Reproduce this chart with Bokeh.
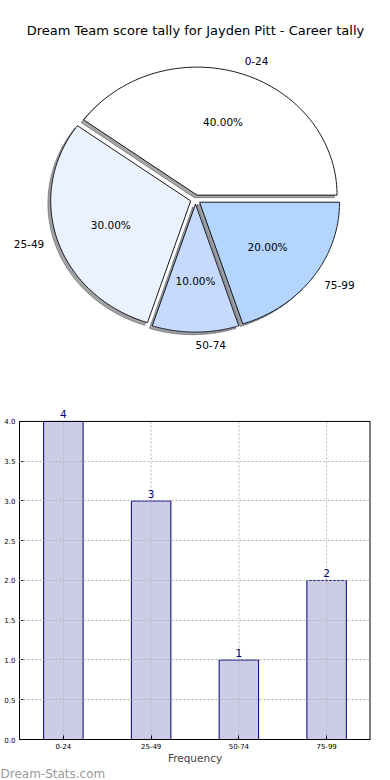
import numpy as np
from bokeh.plotting import figure
from bokeh.models import (Range1d, FactorRange, ColumnDataSource, LabelSet, Label, Span,
                          FixedTicker, PrintfTickFormatter)
from bokeh.core.properties import value
from bokeh.embed import file_html
from bokeh.resources import INLINE

# ---------------- data ----------------
TITLE = "Dream Team score tally for Jayden Pitt - Career tally"
categories = ["0-24", "25-49", "50-74", "75-99"]
counts = [4, 3, 1, 2]
slice_colors = ["#FFFFFF", "#EBF2FF", "#C6D9FF", "#B3D5FF"]
explode = [0.036, 0.036, 0.036, 0.036]
y_ticks = [0.0, 0.5, 1.0, 1.5, 2.0, 2.5, 3.0, 3.5, 4.0]
x_label = "Frequency"
watermark = "Dream-Stats.com"

FONT = "DejaVu Sans"

# ---------------- pie ----------------
W = 390
H1 = 400
cx, cy = 195.0, 199.0      # pie centre inside the figure (px from top-left)
rx, ry = 140.0, 128.0      # pie radii (px)

p1 = figure(width=W, height=H1, output_backend="svg", toolbar_location=None,
            x_range=Range1d(-cx / rx, (W - cx) / rx),
            y_range=Range1d(-(H1 - cy) / ry, cy / ry),
            x_axis_location=None, y_axis_location=None, min_border=0,
            min_border_left=0, min_border_right=0, min_border_top=0, min_border_bottom=0)
p1.grid.visible = False
p1.outline_line_color = None

total = float(sum(counts))
fracs = np.array(counts) / total
ends = np.cumsum(fracs) * 2 * np.pi
starts = ends - fracs * 2 * np.pi
mids = (starts + ends) / 2

wx, wy, shx, shy, shc = [], [], [], [], []
for s, e, m, ex, col in zip(starts, ends, mids, explode, slice_colors):
    ox, oy = ex * np.cos(m), ex * np.sin(m)
    t = np.linspace(s, e, 120)
    px = np.concatenate([[ox], ox + np.cos(t)])
    py = np.concatenate([[oy], oy + np.sin(t)])
    wx.append(px.tolist()); wy.append(py.tolist())
    shx.append((px - 0.02).tolist()); shy.append((py - 0.02).tolist())
    r, g, b = int(col[1:3], 16), int(col[3:5], 16), int(col[5:7], 16)
    shc.append("#%02x%02x%02x" % (int(r * 0.3), int(g * 0.3), int(b * 0.3)))

p1.patches(xs=shx, ys=shy, fill_color=shc, fill_alpha=0.5, line_color=shc, line_alpha=0.5, line_width=1)
p1.patches(xs=wx, ys=wy, fill_color=slice_colors, line_color="black", line_width=0.9)

lab_x = [ex * np.cos(m) + 1.1 * np.cos(m) for m, ex in zip(mids, explode)]
lab_y = [ex * np.sin(m) + 1.1 * np.sin(m) for m, ex in zip(mids, explode)]
right = [i for i in range(len(categories)) if np.cos(mids[i]) >= -1e-9]
left = [i for i in range(len(categories)) if np.cos(mids[i]) < -1e-9]
for idx, align in ((right, "left"), (left, "right")):
    if idx:
        p1.text(x=[lab_x[i] for i in idx], y=[lab_y[i] for i in idx],
                text=[categories[i] for i in idx], text_align=align, text_baseline="middle",
                text_font=value(FONT), text_font_size="10.5px", text_color="black")

pct_x = [ex * np.cos(m) + 0.6 * np.cos(m) for m, ex in zip(mids, explode)]
pct_y = [ex * np.sin(m) + 0.6 * np.sin(m) for m, ex in zip(mids, explode)]
p1.text(x=pct_x, y=pct_y, text=["%.2f%%" % (f * 100) for f in fracs],
        text_align="center", text_baseline="middle",
        text_font=value(FONT), text_font_size="10.5px", text_color="black")

p1.add_layout(Label(x=0.0, y=(cy - 30.0) / ry, text=TITLE, text_align="center",
                    text_baseline="middle", text_font=FONT, text_font_size="13px",
                    text_color="black"))

# ---------------- bars ----------------
H2 = 366
top_border = 5          # frame starts 5px below the top of this figure
bottom_border = 26
box_px = 319.0          # height of the 0..4 box
frame_px = 335.0
y_max = y_ticks[-1]
y_end = y_max * frame_px / box_px

p2 = figure(width=W, height=H2, output_backend="svg", toolbar_location=None,
            x_range=FactorRange(*categories, range_padding=0), y_range=Range1d(0, y_end),
            min_border_left=19, min_border_right=20, min_border_top=top_border,
            min_border_bottom=bottom_border)
p2.outline_line_color = None
p2.xgrid.visible = False

n = len(categories)
src = ColumnDataSource(dict(cat=categories, count=counts, lab=[str(c) for c in counts],
                            y0=[y_ticks[0]] * n, y1=[y_max] * n))
p2.vbar(x="cat", top="count", width=0.45, source=src, fill_color="#CCCCE6",
        line_color="#000080", line_width=1)
# vertical dotted grid lines at the category centres (drawn over the bars)
p2.segment(x0="cat", y0="y0", x1="cat", y1="y1", source=src, line_color="#b4b4b4",
           line_dash="2 2", line_width=1)
p2.add_layout(LabelSet(x="cat", y="count", text="lab", source=src, y_offset=3,
                       text_align="center", text_baseline="bottom", text_font=value(FONT),
                       text_font_size="10.5px", text_color="#000080"))

g = p2.ygrid[0]
g.ticker = FixedTicker(ticks=y_ticks[1:-1])
g.grid_line_color = "#b4b4b4"
g.grid_line_dash = "2 2"
g.grid_line_width = 1
g.level = "overlay"

# box: top edge at y_max, right edge at the end of the factor range
p2.add_layout(Span(location=y_max, dimension="width", line_color="black", line_width=1))
p2.segment(x0=[float(n)], y0=[y_ticks[0]], x1=[float(n)], y1=[y_max],
           line_color="black", line_width=2)

p2.yaxis.ticker = FixedTicker(ticks=y_ticks)
p2.yaxis.formatter = PrintfTickFormatter(format="%.1f")
p2.yaxis.bounds = (y_ticks[0], y_max)

for ax in (p2.xaxis[0], p2.yaxis[0]):
    ax.major_label_text_font = FONT
    ax.major_label_text_color = "black"
    ax.major_label_text_font_size = "7px"
    ax.major_label_text_line_height = 1.0
    ax.major_tick_in = 4
    ax.major_tick_out = 0
    ax.minor_tick_line_color = None
    ax.axis_line_color = "black"
    ax.major_tick_line_color = "black"
p2.yaxis.major_label_standoff = 4
p2.xaxis.major_label_standoff = 3

p2.xaxis.axis_label = x_label
p2.xaxis.axis_label_text_font = FONT
p2.xaxis.axis_label_text_font_size = "10.5px"
p2.xaxis.axis_label_text_font_style = "normal"
p2.xaxis.axis_label_text_line_height = 1.0
p2.xaxis.axis_label_standoff = 0

# ---------------- watermark strip ----------------
H3 = 14
p3 = figure(width=W, height=H3, output_backend="svg", toolbar_location=None,
            x_range=Range1d(0, W), y_range=Range1d(0, 1),
            x_axis_location=None, y_axis_location=None, min_border=0,
            min_border_left=0, min_border_right=0, min_border_top=0, min_border_bottom=0)
p3.grid.visible = False
p3.outline_line_color = None
p3.add_layout(Label(x=0, y=0.5, text=watermark, text_align="left", text_baseline="middle",
                    text_font=FONT, text_font_size="12px", text_color="#9a9a9a"))

open("out.html", "w").write(file_html([p1, p2, p3], INLINE))
